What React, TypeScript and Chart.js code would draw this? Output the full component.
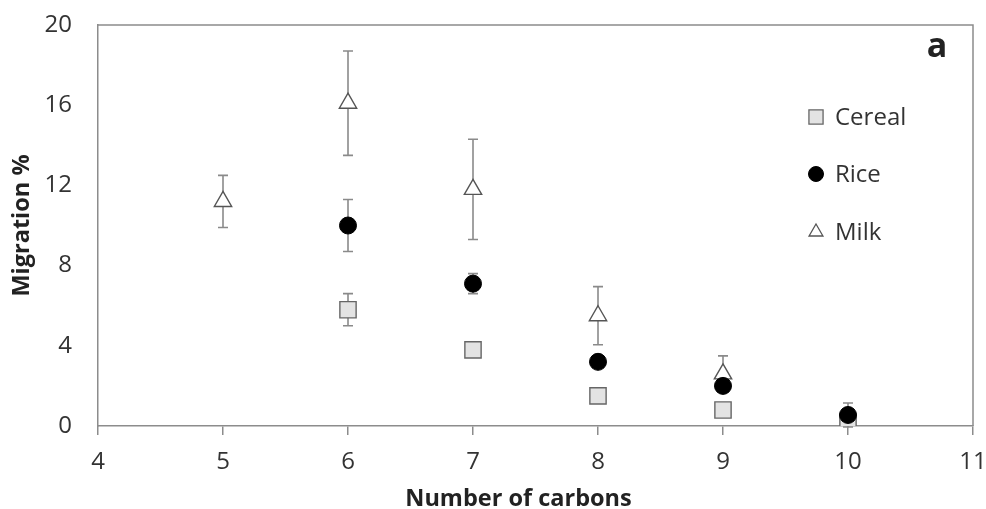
import React, { useEffect, useRef } from "react";
import { Chart, registerables } from "chart.js";
import { drawPoint } from "chart.js/helpers";

Chart.register(...registerables);

// ---- Data ----
const xTickMin = 4;
const xTickMax = 11;
const yTickMin = 0;
const yTickMax = 20;
const yTickStep = 4;

const cerealX = [6, 7, 8, 9, 10];
const cerealY = [5.8, 3.8, 1.5, 0.8, 0.2];
const cerealErr = [0.8, 0, 0, 0, 0];

const riceX = [6, 7, 8, 9, 10];
const riceY = [10.0, 7.1, 3.2, 2.0, 0.55];
const riceErr = [1.3, 0.5, 0, 0, 0.6];

const milkX = [5, 6, 7, 8, 9];
const milkY = [11.2, 16.1, 11.8, 5.5, 2.6];
const milkErr = [1.3, 2.6, 2.5, 1.45, 0.9];

const seriesNames = ["Cereal", "Rice", "Milk"];
const panelLabel = "a";
const xTitle = "Number of carbons";
const yTitle = "Migration %";

const FONT = "'Open Sans', 'Noto Sans', sans-serif";

const toPoints = (xs: number[], ys: number[]) => xs.map((x, i) => ({ x, y: ys[i] }));

const errorBarPlugin = {
  id: "errorBars",
  beforeDatasetsDraw(chart: any) {
    const ctx = chart.ctx;
    const xs = chart.scales.x;
    const ys = chart.scales.y;
    ctx.save();
    ctx.strokeStyle = "#8a8a8a";
    ctx.lineWidth = 1.6;
    chart.data.datasets.forEach((ds: any) => {
      const errs: number[] = ds.errors || [];
      ds.data.forEach((p: any, i: number) => {
        const e = errs[i];
        if (!e) return;
        const px = xs.getPixelForValue(p.x);
        const top = ys.getPixelForValue(p.y + e);
        const bot = ys.getPixelForValue(p.y - e);
        ctx.beginPath();
        ctx.moveTo(px, top);
        ctx.lineTo(px, bot);
        ctx.moveTo(px - 5, top);
        ctx.lineTo(px + 5, top);
        ctx.moveTo(px - 5, bot);
        ctx.lineTo(px + 5, bot);
        ctx.stroke();
      });
    });
    ctx.restore();
  },
};

const framePlugin = {
  id: "frameLegend",
  afterDraw(chart: any) {
    const ctx = chart.ctx;
    const a = chart.chartArea;
    ctx.save();
    ctx.strokeStyle = "#8c8c8c";
    ctx.lineWidth = 1.5;
    ctx.beginPath();
    ctx.moveTo(a.left, a.top);
    ctx.lineTo(a.right, a.top);
    ctx.lineTo(a.right, a.bottom);
    ctx.stroke();

    // x axis title (slightly left of centre, as in the reference)
    ctx.fillStyle = "#222";
    ctx.font = `bold 23.5px ${FONT}`;
    ctx.textAlign = "center";
    ctx.textBaseline = "middle";
    ctx.fillText(xTitle, (a.left + a.right) / 2 - 17, chart.height - 10);

    // panel label
    ctx.font = `bold 34px ${FONT}`;
    ctx.fillText(panelLabel, a.right - 36, a.top + 22);

    // legend
    const legendX = a.right - 157;
    const rows = [a.top + 92, a.top + 149, a.top + 207];
    const styles = [
      { pointStyle: "rect", radius: 10, fill: "#e3e3e3", stroke: "#666", bw: 1.3 },
      { pointStyle: "circle", radius: 7.5, fill: "#000", stroke: "#000", bw: 1 },
      { pointStyle: "triangle", radius: 8, fill: "#fff", stroke: "#555", bw: 1.3 },
    ];
    styles.forEach((s, i) => {
      ctx.fillStyle = s.fill;
      ctx.strokeStyle = s.stroke;
      ctx.lineWidth = s.bw;
      drawPoint(ctx, { pointStyle: s.pointStyle, radius: s.radius, borderWidth: s.bw, rotation: 0 } as any, legendX, rows[i]);
      ctx.fillStyle = "#333";
      ctx.font = `24px ${FONT}`;
      ctx.textAlign = "left";
      ctx.textBaseline = "middle";
      ctx.fillText(seriesNames[i], legendX + 19, rows[i] + 1);
    });
    ctx.restore();
  },
};

export default function App() {
  const ref = useRef<HTMLCanvasElement | null>(null);

  useEffect(() => {
    document.body.style.margin = "0";
    if (!ref.current) return;
    const chart = new Chart(ref.current, {
      type: "scatter",
      data: {
        datasets: [
          {
            label: seriesNames[0],
            data: toPoints(cerealX, cerealY),
            errors: cerealErr,
            pointStyle: "rect",
            pointRadius: 11.5,
            backgroundColor: "#e3e3e3",
            borderColor: "#666",
            borderWidth: 1.4,
            order: 3,
          } as any,
          {
            label: seriesNames[1],
            data: toPoints(riceX, riceY),
            errors: riceErr,
            pointStyle: "circle",
            pointRadius: 8.5,
            backgroundColor: "#000",
            borderColor: "#000",
            borderWidth: 1,
            order: 1,
          } as any,
          {
            label: seriesNames[2],
            data: toPoints(milkX, milkY),
            errors: milkErr,
            pointStyle: "triangle",
            pointRadius: 10,
            backgroundColor: "#fff",
            borderColor: "#555",
            borderWidth: 1.4,
            order: 2,
          } as any,
        ],
      },
      options: {
        animation: false,
        responsive: false,
        events: [],
        layout: { autoPadding: false, padding: { top: 25, right: 13, left: 0, bottom: 0 } },
        plugins: {
          legend: { display: false },
          tooltip: { enabled: false },
        },
        scales: {
          x: {
            type: "linear",
            min: xTickMin,
            max: xTickMax,
            ticks: {
              stepSize: 1,
              color: "#333",
              font: { family: FONT, size: 24 },
              padding: 13,
            },
            grid: {
              drawOnChartArea: false,
              drawTicks: true,
              tickLength: 9,
              color: "#8c8c8c",
              lineWidth: 1.5,
            },
            border: { display: true, color: "#8c8c8c", width: 1.5 },
            title: { display: false, text: xTitle },
            afterFit(scale: any) {
              scale.height = 83;
              scale.paddingLeft = 0;
              scale.paddingRight = 0;
            },
          },
          y: {
            type: "linear",
            min: yTickMin,
            max: yTickMax,
            ticks: {
              stepSize: yTickStep,
              color: "#333",
              font: { family: FONT, size: 24 },
              padding: 26,
            },
            grid: {
              drawOnChartArea: false,
              drawTicks: false,
            },
            border: { display: true, color: "#8c8c8c", width: 1.5 },
            title: {
              display: true,
              text: yTitle,
              color: "#222",
              font: { family: FONT, size: 23.5, weight: "bold" },
              padding: { top: 8, bottom: 0 },
            },
            afterFit(scale: any) {
              scale.width = 98;
              scale.paddingTop = 0;
              scale.paddingBottom = 0;
            },
          },
        },
      } as any,
      plugins: [errorBarPlugin, framePlugin],
    });
    return () => chart.destroy();
  }, []);

  return (
    <div style={{ width: 986, height: 509, position: "relative", background: "#fff" }}>
      <canvas ref={ref} width={986} height={509} style={{ width: 986, height: 509, display: "block" }} />
    </div>
  );
}
